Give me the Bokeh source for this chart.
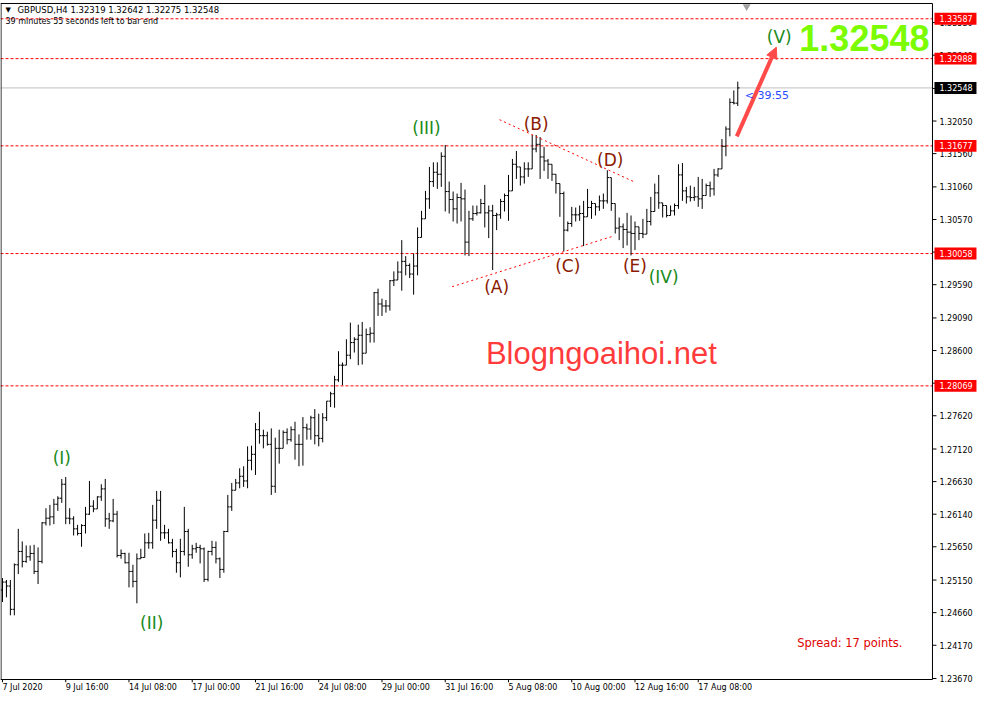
from bokeh.plotting import figure
from bokeh.models import Range1d, FixedTicker, Label, Arrow, NormalHead
from bokeh.core.properties import value
from bokeh.embed import file_html
from bokeh.resources import INLINE

# ---------------- data (GBPUSD H4) ----------------
first_open = 1.2500
closes = [
    1.2512, 1.2506, 1.2471, 1.2538, 1.2558, 1.2543, 1.2550, 1.2555, 1.2528, 1.2543,
    1.2601, 1.2608, 1.2610, 1.2629, 1.2638, 1.2659, 1.2608, 1.2607, 1.2592, 1.2585,
    1.2597, 1.2614, 1.2626, 1.2622, 1.2640, 1.2652, 1.2607, 1.2604, 1.2614, 1.2552,
    1.2555, 1.2541, 1.2528, 1.2513, 1.2547, 1.2549, 1.2571, 1.2571, 1.2605, 1.2635,
    1.2586, 1.2586, 1.2571, 1.2558, 1.2541, 1.2558, 1.2588, 1.2553, 1.2562, 1.2564,
    1.2562, 1.2516, 1.2558, 1.2564, 1.2547, 1.2531, 1.2588, 1.2625, 1.2650, 1.2661,
    1.2671, 1.2664, 1.2695, 1.2704, 1.2741, 1.2732, 1.2732, 1.2719, 1.2656, 1.2713,
    1.2713, 1.2737, 1.2726, 1.2741, 1.2719, 1.2719, 1.2744, 1.2742, 1.2759, 1.2732,
    1.2728, 1.2759, 1.2784, 1.2795, 1.2816, 1.2838, 1.2838, 1.2853, 1.2872, 1.2877,
    1.2883, 1.2856, 1.2884, 1.2886, 1.2947, 1.2930, 1.2927, 1.2927, 1.2965, 1.2966,
    1.2978, 1.2994, 1.2988, 1.2975, 1.2987, 1.3030, 1.3058, 1.3088, 1.3114, 1.3128,
    1.3125, 1.3152, 1.3099, 1.3087, 1.3073, 1.3090, 1.3088, 1.3023, 1.3058, 1.3066,
    1.3067, 1.3081, 1.3067, 1.3070, 1.3063, 1.3064, 1.3084, 1.3093, 1.3100, 1.3140,
    1.3136, 1.3121, 1.3133, 1.3133, 1.3163, 1.3170, 1.3151, 1.3145, 1.3140, 1.3125,
    1.3111, 1.3096, 1.3041, 1.3051, 1.3064, 1.3064, 1.3066, 1.3061, 1.3075, 1.3081,
    1.3076, 1.3085, 1.3085, 1.3120, 1.3081, 1.3044, 1.3046, 1.3042, 1.3038, 1.3036,
    1.3046, 1.3036, 1.3035, 1.3054, 1.3069, 1.3097, 1.3082, 1.3078, 1.3063, 1.3070,
    1.3078, 1.3124, 1.3100, 1.3091, 1.3090, 1.3091, 1.3088, 1.3093, 1.3108, 1.3103,
    1.3124, 1.3133, 1.3167, 1.3193, 1.3233, 1.32319, 1.32548,
]
highs = [
    1.2518, 1.2515, 1.2515, 1.2540, 1.2592, 1.2573, 1.2567, 1.2567, 1.2568, 1.2564,
    1.2602, 1.2623, 1.2628, 1.2637, 1.2641, 1.2667, 1.2670, 1.2623, 1.2611, 1.2598,
    1.2599, 1.2625, 1.2664, 1.2635, 1.2641, 1.2659, 1.2667, 1.2616, 1.2637, 1.2619,
    1.2561, 1.2556, 1.2556, 1.2538, 1.2555, 1.2562, 1.2585, 1.2586, 1.2628, 1.2649,
    1.2649, 1.2598, 1.2592, 1.2577, 1.2562, 1.2577, 1.2625, 1.2592, 1.2568, 1.2571,
    1.2568, 1.2564, 1.2559, 1.2574, 1.2573, 1.2549, 1.2589, 1.2643, 1.2661, 1.2667,
    1.2683, 1.2686, 1.2716, 1.2717, 1.2751, 1.2768, 1.2741, 1.2738, 1.2743, 1.2729,
    1.2741, 1.2740, 1.2743, 1.2746, 1.2753, 1.2734, 1.2760, 1.2750, 1.2762, 1.2772,
    1.2765, 1.2766, 1.2784, 1.2798, 1.2822, 1.2859, 1.2842, 1.2877, 1.2902, 1.2880,
    1.2899, 1.2903, 1.2893, 1.2895, 1.2948, 1.2953, 1.2938, 1.2936, 1.2966, 1.2979,
    1.2994, 1.3026, 1.3002, 1.2991, 1.3006, 1.3045, 1.3070, 1.3100, 1.3136, 1.3143,
    1.3143, 1.3158, 1.3169, 1.3114, 1.3099, 1.3096, 1.3112, 1.3102, 1.3070, 1.3078,
    1.3078, 1.3088, 1.3109, 1.3078, 1.3079, 1.3067, 1.3088, 1.3096, 1.3124, 1.3148,
    1.3160, 1.3134, 1.3143, 1.3143, 1.3184, 1.3184, 1.3181, 1.3166, 1.3148, 1.3140,
    1.3115, 1.3108, 1.3099, 1.3054, 1.3076, 1.3075, 1.3078, 1.3085, 1.3103, 1.3085,
    1.3078, 1.3093, 1.3096, 1.3131, 1.3120, 1.3081, 1.3060, 1.3051, 1.3067, 1.3063,
    1.3054, 1.3045, 1.3058, 1.3073, 1.3091, 1.3111, 1.3124, 1.3081, 1.3073, 1.3078,
    1.3081, 1.3140, 1.3142, 1.3106, 1.3108, 1.3106, 1.3121, 1.3118, 1.3111, 1.3114,
    1.3133, 1.3134, 1.3178, 1.3197, 1.3239, 1.3251, 1.32642,
]
lows = [
    1.2482, 1.2489, 1.2462, 1.2462, 1.2524, 1.2534, 1.2541, 1.2544, 1.2524, 1.2509,
    1.2540, 1.2597, 1.2597, 1.2599, 1.2619, 1.2631, 1.2599, 1.2599, 1.2582, 1.2582,
    1.2565, 1.2585, 1.2613, 1.2617, 1.2626, 1.2634, 1.2595, 1.2592, 1.2602, 1.2549,
    1.2547, 1.2540, 1.2504, 1.2504, 1.2480, 1.2547, 1.2549, 1.2562, 1.2562, 1.2592,
    1.2574, 1.2577, 1.2570, 1.2549, 1.2526, 1.2519, 1.2552, 1.2535, 1.2547, 1.2556,
    1.2540, 1.2512, 1.2513, 1.2552, 1.2540, 1.2518, 1.2526, 1.2587, 1.2619, 1.2650,
    1.2653, 1.2655, 1.2653, 1.2680, 1.2673, 1.2720, 1.2713, 1.2717, 1.2643, 1.2646,
    1.2690, 1.2725, 1.2719, 1.2723, 1.2696, 1.2686, 1.2687, 1.2726, 1.2726, 1.2719,
    1.2716, 1.2722, 1.2754, 1.2775, 1.2774, 1.2813, 1.2808, 1.2847, 1.2847, 1.2857,
    1.2838, 1.2839, 1.2872, 1.2872, 1.2872, 1.2912, 1.2912, 1.2917, 1.2920, 1.2957,
    1.2972, 1.2950, 1.2973, 1.2969, 1.2944, 1.2973, 1.3032, 1.3070, 1.3073, 1.3106,
    1.3103, 1.3106, 1.3069, 1.3066, 1.3054, 1.3051, 1.3054, 1.3003, 1.3002, 1.3055,
    1.3063, 1.3066, 1.3045, 1.3029, 1.2981, 1.3041, 1.3058, 1.3069, 1.3055, 1.3111,
    1.3118, 1.3108, 1.3111, 1.3121, 1.3143, 1.3158, 1.3118, 1.3130, 1.3118, 1.3115,
    1.3096, 1.3061, 1.3009, 1.3039, 1.3046, 1.3054, 1.3055, 1.3017, 1.3066, 1.3058,
    1.3063, 1.3070, 1.3073, 1.3081, 1.3070, 1.3036, 1.3026, 1.3014, 1.3018, 1.3003,
    1.3011, 1.3026, 1.3029, 1.3051, 1.3048, 1.3076, 1.3073, 1.3060, 1.3060, 1.3063,
    1.3063, 1.3073, 1.3085, 1.3081, 1.3084, 1.3085, 1.3076, 1.3073, 1.3093, 1.3091,
    1.3093, 1.3121, 1.3133, 1.3152, 1.3182, 1.3230, 1.32275,
]

date_tick_bars = [0, 16, 32, 48, 64, 80, 96, 112, 128, 144, 160, 176]
date_tick_labels = ["7 Jul 2020", "9 Jul 16:00", "14 Jul 08:00", "17 Jul 00:00",
                    "21 Jul 16:00", "24 Jul 08:00", "29 Jul 00:00", "31 Jul 16:00",
                    "5 Aug 08:00", "10 Aug 00:00", "12 Aug 16:00", "17 Aug 08:00"]
price_ticks = [1.2367, 1.2417, 1.2466, 1.2515, 1.2565, 1.2614, 1.2663, 1.2712,
               1.2762, 1.2811, 1.2860, 1.2909, 1.2959, 1.3008, 1.3057, 1.3106,
               1.3156, 1.3205, 1.3254, 1.3304, 1.3353]
level_lines = [1.33587, 1.32988, 1.31677, 1.30058, 1.28069]
last_price = 1.32548
header = "GBPUSD,H4  1.32319 1.32642 1.32275 1.32548"
timer_text = "39 minutes 55 seconds left to bar end"

wave_green = [("(I)", 15.0, 1.2698), ("(II)", 37.75, 1.2450), ("(III)", 107.25, 1.3195),
              ("(IV)", 167.25, 1.2970), ("(V)", 196.5, 1.3331)]
wave_red = [("(A)", 125.0, 1.2956), ("(B)", 135.0, 1.3200), ("(C)", 143.0, 1.2987),
            ("(D)", 153.75, 1.3146), ("(E)", 160.0, 1.2987)]
upper_trend_x = [125.75, 160.0]
upper_trend_y = [1.3207, 1.3113]
lower_trend_x = [113.75, 154.5]
lower_trend_y = [1.2956, 1.3032]
arrow_x = [185.75, 195.75]
arrow_y = [1.3182, 1.3316]

# ---------------- layout constants ----------------
FONT = "DejaVu Sans"
W, H = 977, 694
BOTTOM_AXIS = 9
X0, X1 = -0.5, 246.64            # bar-index range across the whole frame
XB = 235.25                      # right edge of the price pane (bar units)
P_TOP, P_BOT = 1.33817, 1.23655  # price pane edges
dypx = (P_TOP - P_BOT) / (H - BOTTOM_AXIS - 6)
Y0, Y1 = P_BOT - 3 * dypx, P_TOP + 3 * dypx
dxpx = (X1 - X0) / W

n = len(closes)
idx = list(range(n))
opens = [first_open] + closes[:-1]
top = [max(h, o, c) for h, o, c in zip(highs, opens, closes)]
bot = [min(l, o, c) for l, o, c in zip(lows, opens, closes)]

p = figure(width=W, height=H, x_range=Range1d(X0, X1), y_range=Range1d(Y0, Y1),
           output_backend="svg", toolbar_location=None, y_axis_location=None,
           min_border_left=0, min_border_right=0, min_border_top=0,
           min_border_bottom=BOTTOM_AXIS)
p.xgrid.visible = False
p.ygrid.visible = False
p.outline_line_color = None
p.background_fill_color = "white"
p.border_fill_color = "white"

# level lines across the price pane
p.segment(x0=[X0] * len(level_lines), x1=[XB] * len(level_lines), y0=level_lines,
          y1=level_lines, line_color="#FF0000", line_dash="3 2", line_width=1)
p.segment(x0=[X0], x1=[XB], y0=[last_price], y1=[last_price], line_color="#C0C0C0",
          line_width=1)

# OHLC bars
p.segment(x0=idx, y0=bot, x1=idx, y1=top, line_color="black", line_width=1)
p.segment(x0=[i - 0.45 for i in idx], y0=opens, x1=idx, y1=opens,
          line_color="black", line_width=1)
p.segment(x0=idx, y0=closes, x1=[i + 0.45 for i in idx], y1=closes,
          line_color="black", line_width=1)

# triangle trend lines
p.line(upper_trend_x, upper_trend_y, line_color="#FF0000", line_dash="2 3", line_width=1)
p.line(lower_trend_x, lower_trend_y, line_color="#FF0000", line_dash="2 3", line_width=1)

# arrow
p.add_layout(Arrow(end=NormalHead(size=11, fill_color="#FF4A4A", line_color="#FF4A4A"),
                   x_start=arrow_x[0], y_start=arrow_y[0], x_end=arrow_x[1], y_end=arrow_y[1],
                   line_color="#FF4A4A", line_width=4))

# wave labels
for t, x, y in wave_green:
    p.add_layout(Label(x=x, y=y, text=t, text_font=FONT, text_font_size="17px",
                       text_color="#1A8A1A", text_align="center", text_baseline="middle"))
for t, x, y in wave_red:
    p.add_layout(Label(x=x, y=y, text=t, text_font=FONT, text_font_size="17px",
                       text_color="#8B1A00", text_align="center", text_baseline="middle"))

# watermark & info texts
p.add_layout(Label(x=151.5, y=1.2855, text="Blogngoaihoi.net", text_font="Liberation Sans",
                   text_font_size="31px", text_color="#FF3B3B", text_align="center",
                   text_baseline="middle"))
p.add_layout(Label(x=XB - 30 * dxpx, y=1.2421, text="Spread: 17 points.", text_font=FONT,
                   text_font_size="11.5px", text_color="#E00000", text_align="right",
                   text_baseline="middle"))
p.add_layout(Label(x=187.75, y=1.3243, text="< 39:55", text_font=FONT,
                   text_font_size="11px", text_color="#2B4BFF", text_align="left",
                   text_baseline="middle"))
p.add_layout(Label(x=XB - 3 * dxpx, y=1.33295, text="1.32548", text_font="Liberation Sans",
                   text_font_style="bold", text_font_size="36px", text_color="#7CFC00",
                   text_align="right", text_baseline="alphabetic"))
p.scatter(x=[188.25], y=[P_TOP - 3 * dypx], marker="inverted_triangle", size=8,
          fill_color="#A0A0A0", line_color=None)
p.text(x=[X0 + 5 * dxpx], y=[P_TOP - 3 * dypx], text=["\u25bc"], text_font=value(FONT),
       text_font_size="7px", text_color="black", text_align="left", text_baseline="top")
p.text(x=[X0 + 17 * dxpx], y=[P_TOP - 2 * dypx], text=[header], text_font=value(FONT),
       text_font_size="8.5px", text_color="black", text_align="left", text_baseline="top")
p.text(x=[X0 + 5 * dxpx], y=[P_TOP - 14 * dypx], text=[timer_text], text_font=value(FONT),
       text_font_size="8px", text_color="black", text_align="left", text_baseline="top")

# price pane border
p.segment(x0=[X0, X0, XB, X0 + 0.5 * dxpx], x1=[XB, XB, XB, X0 + 0.5 * dxpx],
          y0=[P_TOP, P_BOT, P_BOT, P_BOT], y1=[P_TOP, P_BOT, P_TOP, P_TOP],
          line_color="black", line_width=1)

# price scale on the right of the pane
p.segment(x0=[XB] * len(price_ticks), x1=[XB + 4 * dxpx] * len(price_ticks),
          y0=price_ticks, y1=price_ticks, line_color="black", line_width=1)
p.text(x=[XB + 7 * dxpx] * len(price_ticks), y=price_ticks,
       text=[f"{v:.5f}" for v in price_ticks], text_font=value(FONT),
       text_font_size="8px", text_color="black", text_align="left", text_baseline="middle")
box_vals = level_lines + [last_price]
box_cols = ["#FF0000"] * len(level_lines) + ["black"]
p.quad(left=[XB + 2 * dxpx] * len(box_vals), right=[XB + 44 * dxpx] * len(box_vals),
       bottom=[v - 6 * dypx for v in box_vals], top=[v + 6 * dypx for v in box_vals],
       fill_color=box_cols, line_color=None)
p.text(x=[XB + 7 * dxpx] * len(box_vals), y=box_vals, text=[f"{v:.5f}" for v in box_vals],
       text_font=value(FONT), text_font_size="8px", text_color="white", text_align="left",
       text_baseline="middle")

# date tick marks (under the pane) and the date axis
p.segment(x0=date_tick_bars, x1=date_tick_bars, y0=[P_BOT] * len(date_tick_bars),
          y1=[P_BOT - 3 * dypx] * len(date_tick_bars), line_color="black", line_width=1)
label_half_px = [20.1, 21.4, 24.0, 24.0, 24.0, 24.0, 24.0, 24.0, 24.4, 27.0, 27.0, 27.0]
tick_pos = [round(b + hw * dxpx, 4) for b, hw in zip(date_tick_bars, label_half_px)]
p.xaxis.ticker = FixedTicker(ticks=tick_pos)
p.xaxis.major_label_overrides = {t: s for t, s in zip(tick_pos, date_tick_labels)}
p.xaxis.major_label_text_font = FONT
p.xaxis.major_label_text_font_size = "8px"
p.xaxis.major_label_text_color = "black"
p.xaxis.major_tick_out = 0
p.xaxis.major_tick_in = 0
p.xaxis.minor_tick_out = 0
p.xaxis.minor_tick_in = 0
p.xaxis.major_label_standoff = 0
p.xaxis.axis_line_color = None

open("out.html", "w").write(file_html(p, INLINE))
